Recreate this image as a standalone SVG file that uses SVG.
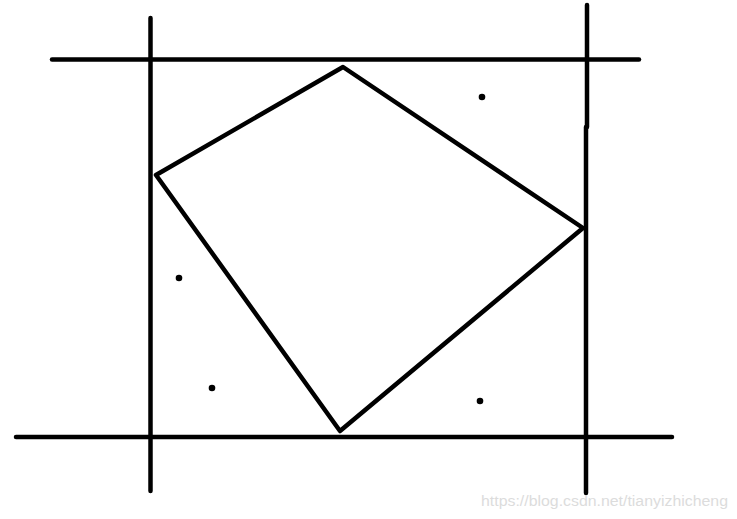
<svg xmlns="http://www.w3.org/2000/svg" width="737" height="519" viewBox="0 0 737 519">
<style>
.ln{stroke:#000;stroke-width:4.5;stroke-linecap:round;fill:none}
.poly{stroke:#000;stroke-width:4.5;stroke-linejoin:round;fill:none}
.dot{fill:#000}
.wm{font-family:"Liberation Sans",Arial,sans-serif;font-size:14px;fill:#dcdcdc}
</style>
<rect width="737" height="519" fill="#fff"/>
<g id="grid-lines">
<line class="ln" x1="52" y1="59.5" x2="639" y2="59.5"/>
<line class="ln" x1="16" y1="437" x2="672" y2="437"/>
<line class="ln" x1="150.5" y1="18" x2="150.5" y2="491"/>
<line class="ln" x1="587" y1="5" x2="587" y2="127"/>
<line class="ln" x1="586" y1="127" x2="586" y2="493"/>
</g>
<g id="quadrilateral">
<polygon class="poly" points="343,67 156,175 340,431 583,228"/>
</g>
<g id="points">
<circle class="dot" cx="482" cy="97" r="3.3"/>
<circle class="dot" cx="179" cy="278" r="3.3"/>
<circle class="dot" cx="212" cy="388" r="3.3"/>
<circle class="dot" cx="480" cy="401" r="3.3"/>
</g>
<text class="wm" x="481" y="506" textLength="247" lengthAdjust="spacingAndGlyphs">https://blog.csdn.net/tianyizhicheng</text>
</svg>
